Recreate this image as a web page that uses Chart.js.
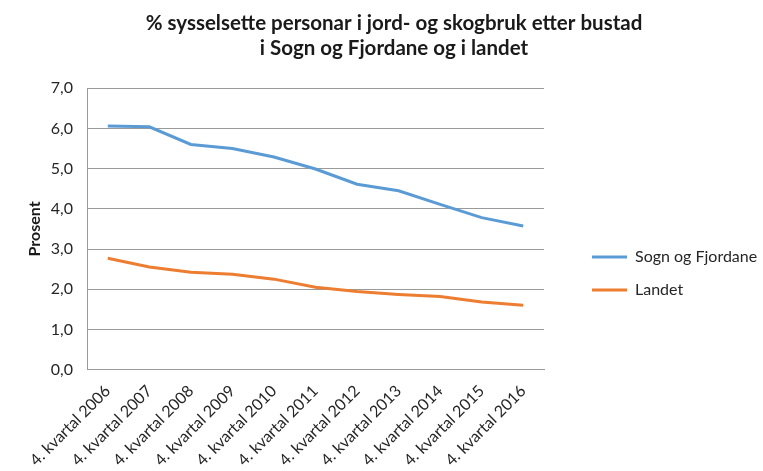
<!DOCTYPE html>
<html>
<head>
<meta charset="utf-8">
<script src="https://cdn.jsdelivr.net/npm/chart.js@4.4.1/dist/chart.umd.min.js"></script>
<style>
	html, body { margin: 0; padding: 0; background: #fff; }
	#wrap { width: 763px; height: 471px; }
</style>
</head>
<body>
<div id="wrap"><canvas id="chart"></canvas></div>
<script>
const categories = [
	'4. kvartal 2006', '4. kvartal 2007', '4. kvartal 2008', '4. kvartal 2009',
	'4. kvartal 2010', '4. kvartal 2011', '4. kvartal 2012', '4. kvartal 2013',
	'4. kvartal 2014', '4. kvartal 2015', '4. kvartal 2016',
];
const sognValues = [6.06, 6.04, 5.60, 5.50, 5.29, 4.99, 4.61, 4.45, 4.11, 3.78, 3.57];
const landetValues = [2.77, 2.55, 2.42, 2.37, 2.25, 2.05, 1.94, 1.87, 1.82, 1.68, 1.60];
const yTicks = [0, 1, 2, 3, 4, 5, 6, 7];

const gridColor = '#9a9a9a';
const textColor = '#262626';

Chart.defaults.font.family = 'Lato, "Open Sans", sans-serif';
Chart.defaults.color = textColor;

new Chart(document.getElementById('chart').getContext('2d'), {
	type: 'line',
	data: {
		labels: categories,
		datasets: [
			{
				label: 'Sogn og Fjordane',
				data: sognValues,
				borderColor: '#5b9bd5',
				backgroundColor: '#5b9bd5',
				borderWidth: 3,
				pointRadius: 0,
				tension: 0,
			},
			{
				label: 'Landet',
				data: landetValues,
				borderColor: '#ed7d31',
				backgroundColor: '#ed7d31',
				borderWidth: 3,
				pointRadius: 0,
				tension: 0,
			},
		],
	},
	options: {
		responsive: true,
		maintainAspectRatio: false,
		animation: false,
		layout: { padding: { left: 25, right: 0, top: 0, bottom: -11 } },
		plugins: {
			title: {
				display: true,
				text: ['% sysselsette personar i jord- og skogbruk etter bustad', 'i Sogn og Fjordane og i landet'],
				font: { size: 20.5, weight: 'bold' },
				color: '#1a1a1a',
				padding: { top: 11, bottom: 28 },
			},
			legend: {
				position: 'right',
				maxWidth: 188,
				title: {
					display: true,
					text: '',
					font: { size: 1 },
					padding: { top: 64, bottom: 0 },
				},
				labels: {
					usePointStyle: true,
					pointStyle: 'line',
					pointStyleWidth: 35,
					padding: 17,
					font: { size: 16 },
					color: textColor,
				},
			},
			tooltip: { enabled: false },
		},
		scales: {
			x: {
				offset: true,
				grid: { display: false, drawTicks: false },
				border: { display: true, color: gridColor },
				ticks: {
					maxRotation: 45,
					minRotation: 45,
					autoSkip: false,
					font: { size: 16 },
					padding: 12,
				},
			},
			y: {
				min: 0,
				max: 7,
				afterBuildTicks: (scale) => {
					scale.ticks = yTicks.map((v) => ({ value: v }));
				},
				afterFit: (scale) => {
					scale.width = 62;
				},
				grid: { color: gridColor, drawTicks: false },
				border: { display: true, color: gridColor },
				ticks: {
					padding: 14,
					font: { size: 16 },
					callback: (v) => v.toFixed(1).replace('.', ','),
				},
				title: {
					display: true,
					text: 'Prosent',
					font: { size: 16, weight: 'bold' },
					color: '#1a1a1a',
					padding: { top: 0, bottom: 5 },
				},
			},
			gap: {
				position: 'right',
				display: true,
				grid: { display: false },
				border: { display: false },
				ticks: { display: false },
				afterFit: (scale) => {
					scale.width = 31;
				},
			},
		},
	},
});
</script>
</body>
</html>
